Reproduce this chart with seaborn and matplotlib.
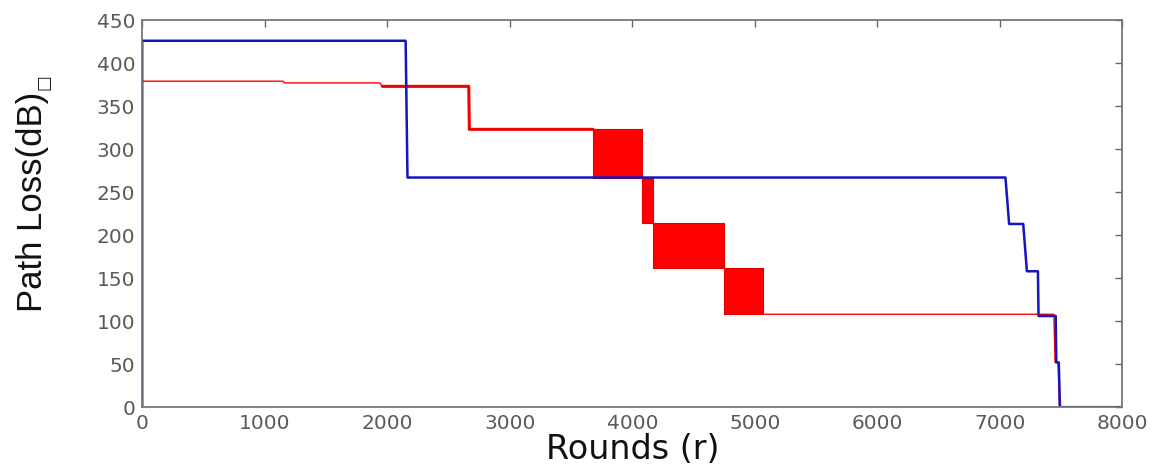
import numpy as np
import pandas as pd
import seaborn as sns
import matplotlib.pyplot as plt

# Dados (rounds x path loss)
blue_rounds = [0, 0, 2150, 2165, 7045, 7075, 7190, 7220, 7310, 7315, 7455, 7460, 7480, 7490, 8000]
blue_loss = [0, 426, 426, 267, 267, 213, 213, 158, 158, 106, 106, 52, 52, 0, 0]

red_top_rounds = [0, 1150, 1160, 1940, 1960]
red_top_loss = [379, 379, 377, 377, 373]

red_mid_rounds = [1960, 2665, 2670, 3680]
red_mid_loss = [373, 373, 323, 323]

# faixas onde a curva vermelha oscila entre dois níveis
band_start = [3680, 4080, 4165, 4745]
band_end = [4080, 4165, 4745, 5065]
band_low = [267, 214, 162, 108]
band_high = [323, 267, 214, 162]

red_tail_rounds = [5065, 7440, 7450, 7475, 7485, 8000]
red_tail_loss = [108, 108, 52, 52, 0, 0]

xticks = list(range(0, 8001, 1000))
yticks = list(range(0, 451, 50))

sns.set_style('white')
plt.rcParams['xtick.direction'] = 'in'
plt.rcParams['ytick.direction'] = 'in'

fig, ax = plt.subplots(figsize=(11.56, 4.68), dpi=100)
fig.subplots_adjust(left=0.123, right=0.971, top=0.957, bottom=0.13)

# curva vermelha
sns.lineplot(x=red_top_rounds, y=red_top_loss, estimator=None, sort=False,
             color='#ff0000', linewidth=1.0, ax=ax)
sns.lineplot(x=red_mid_rounds, y=red_mid_loss, estimator=None, sort=False,
             color='#f00000', linewidth=2.2, ax=ax)
for x0, x1, lo, hi in zip(band_start, band_end, band_low, band_high):
    ax.fill_between([x0, x1], [lo, lo], [hi, hi], color='#ff0000', linewidth=0.8,
                    edgecolor='#e00000')
sns.lineplot(x=red_tail_rounds, y=red_tail_loss, estimator=None, sort=False,
             color='#ff0000', linewidth=1.0, ax=ax)

# curva azul
sns.lineplot(x=blue_rounds, y=blue_loss, estimator=None, sort=False,
             color='#1414c0', linewidth=1.8, ax=ax)

ax.set_xlim(0, 8000)
ax.set_ylim(0, 450)
ax.set_xticks(xticks)
ax.set_yticks(yticks)
ax.tick_params(axis='both', which='both', top=True, right=True, length=5,
               width=1, color='#666666', labelcolor='#5a5a5a', labelsize=14.5, pad=5)
for s in ax.spines.values():
    s.set_color('#777777')
    s.set_linewidth(1.3)

ax.set_xlabel('Rounds (r)', fontsize=24, color='#111111', labelpad=0,
              family='DejaVu Sans')
ylab = ax.set_ylabel('Path Loss(dB)', fontsize=25, color='#111111',
                     family='Liberation Sans')
ax.yaxis.set_label_coords(-0.095, 0.53)

# caixinha (glifo ausente) depois do rótulo do eixo y
fig.canvas.draw()
bb = ylab.get_window_extent()
inv = fig.transFigure.inverted()
x_fig, y_fig = inv.transform((bb.x1 - 6, bb.y1 + 2))
fig.text(x_fig, y_fig, '\u25a1', fontsize=12, rotation=90, color='#111111',
         ha='center', va='bottom', family='DejaVu Sans')

fig.savefig('out.png', dpi=100)
